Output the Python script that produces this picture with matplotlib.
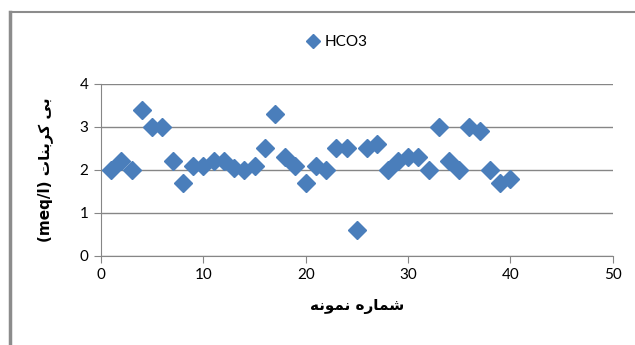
import matplotlib
matplotlib.use("Agg")
import matplotlib.pyplot as plt
from matplotlib.lines import Line2D

# sample number vs bicarbonate (meq/l)
sample_no = list(range(1, 41))
hco3 = [2.0, 2.2, 2.0, 3.4, 3.0, 3.0, 2.2, 1.7, 2.1, 2.1,
        2.2, 2.2, 2.05, 2.0, 2.1, 2.5, 3.3, 2.3, 2.1, 1.7,
        2.1, 2.0, 2.5, 2.5, 0.6, 2.5, 2.6, 2.0, 2.2, 2.3,
        2.3, 2.0, 3.0, 2.2, 2.0, 3.0, 2.9, 2.0, 1.7, 1.8]
x_ticks = [0, 10, 20, 30, 40, 50]
y_ticks = [0, 1, 2, 3, 4]
series_name = "HCO3"

# Persian labels in visual order with presentation forms (no shaping engine available)
xlabel = "\uFEEA\uFEE7\uFEEE\uFEE4\uFEE7 \uFEE9\uFEAD\uFE8E\uFEE4\uFEB7"          # شماره نمونه
ylabel = "(meq/l) \uFE95\uFE8E\uFEE8\uFE91\uFEAE\uFB90 \uFBFD\uFE91"               # بی کربنات (meq/l)

BLUE = "#4A7EBB"
GREY = "#868686"

fig = plt.figure(figsize=(6.35, 3.45), dpi=100)
ax = fig.add_axes([0.159, 0.258, 0.806, 0.499])

ax.plot(sample_no, hco3, linestyle="none", marker="D", markersize=9.5,
        color=BLUE, markeredgecolor=BLUE, zorder=3)

ax.set_xlim(0, 50)
ax.set_ylim(0, 4)
ax.set_xticks(x_ticks)
ax.set_yticks(y_ticks)
ax.grid(True, axis="y", color=GREY, linewidth=1)
ax.set_axisbelow(True)
for s in ["top", "right"]:
    ax.spines[s].set_visible(False)
for s in ["left", "bottom"]:
    ax.spines[s].set_color(GREY)
ax.tick_params(direction="out", length=5, color=GREY, labelsize=11, pad=4)
for lab in ax.get_xticklabels() + ax.get_yticklabels():
    lab.set_family(["Lato", "DejaVu Sans"])

ax.set_xlabel(xlabel, family=["DejaVu Sans"], fontweight="bold", fontsize=11, labelpad=12)
ax.set_ylabel(ylabel, family=["DejaVu Sans"], fontweight="bold", fontsize=11, labelpad=19)

handle = Line2D([], [], linestyle="none", marker="D", markersize=7, color=BLUE)
leg = fig.legend([handle], [series_name], loc="center", bbox_to_anchor=(0.53, 0.878),
                 frameon=False, handletextpad=0.3, handlelength=1.0,
                 prop={"family": ["Lato", "DejaVu Sans"], "size": 11})

# chart area border (only top and left visible in the crop)
fig.add_artist(Line2D([0.016, 1.0], [0.965, 0.965], color="#8C8C8C", linewidth=1.5,
                      transform=fig.transFigure))
fig.add_artist(Line2D([0.016, 0.016], [0.0, 0.965], color="#8C8C8C", linewidth=2.5,
                      transform=fig.transFigure))

fig.savefig("out.png", dpi=100)
